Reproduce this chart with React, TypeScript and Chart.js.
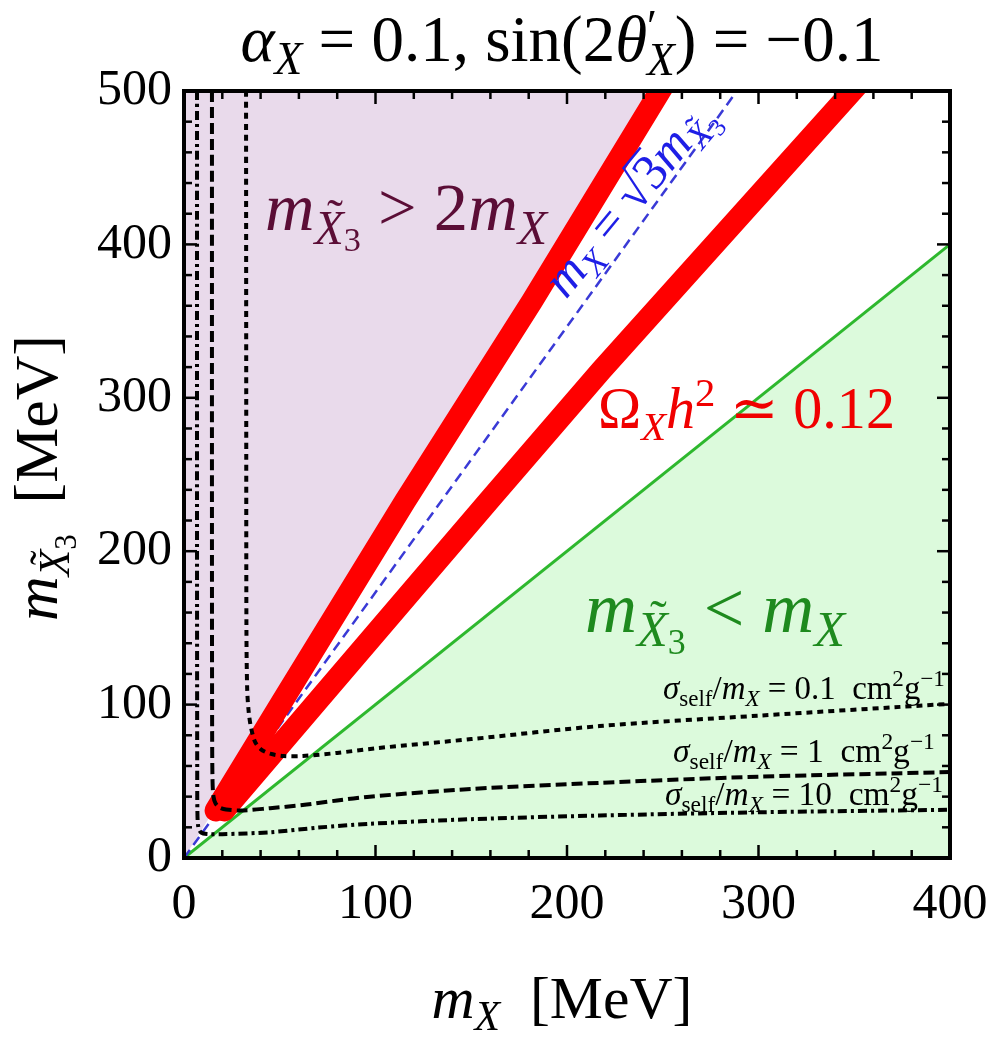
import React, { useEffect, useRef } from 'react';
import { Chart, registerables } from 'chart.js';

Chart.register(...registerables);

// ---------- axes ----------
const X_MIN = 0;
const X_MAX = 400;
const Y_MIN = 0;
const Y_MAX = 500;
const MINOR_STEP = 20;
const MAJOR_STEP = 100;

// ---------- kinematic boundaries ----------
const lowerBoundX = [0, 400]; // m_X3 = m_X
const lowerBoundY = [0, 400];
const upperBoundX = [0, 250]; // m_X3 = 2 m_X
const upperBoundY = [0, 500];
const sqrt3X = [0, 288.7]; // m_X = sqrt(3) m_X3 line
const sqrt3Y = [0, 500];

// ---------- relic density band (two branches) ----------
const relicAX = [16.5, 51.4, 115.4, 181.7, 248.6, 254];
const relicAY = [31, 102.3, 232.6, 362.9, 500, 511];
const relicBX = [21, 69.5, 159, 218, 349, 356];
const relicBY = [31, 102, 232.6, 318, 500, 510];

// ---------- self-interaction contours ----------
const sig01X = [32.4, 32.5, 32.6, 33.0, 33.8, 35.0, 37.0, 40.0, 45.0, 52.0, 62.0, 80.0, 100, 150, 217, 300, 400];
const sig01Y = [500, 300, 150, 110, 95, 85, 76, 71, 68, 66.5, 66.5, 68.5, 71.5, 77.5, 86, 92.8, 100.5];
const sig1X = [14.6, 14.6, 14.7, 14.9, 15.4, 16.5, 18.5, 22, 31, 45, 62, 80, 97, 150, 217, 300, 400];
const sig1Y = [500, 200, 80, 50, 40, 35.5, 33, 31.6, 31, 32.5, 34.5, 37.5, 40, 45, 49, 53, 56];
const sig10X = [6.8, 6.8, 6.9, 7.0, 7.5, 9.0, 12, 20, 45, 70, 97, 150, 217, 300, 400];
const sig10Y = [500, 200, 60, 30, 20, 16.5, 15.6, 15.5, 16.8, 19.8, 22.3, 25.3, 27.7, 29.8, 31.4];

const pts = (xs: number[], ys: number[]) => xs.map((x, i) => ({ x, y: ys[i] }));

const SERIF = '"Liberation Serif", "Times New Roman", "DejaVu Serif", serif';

type Seg = { t: string; it?: boolean; sc?: number; dy?: number; tilde?: boolean; noAdv?: boolean; over?: boolean };

const fontFor = (s: Seg, size: number) => `${s.it ? 'italic ' : ''}${size * (s.sc ?? 1)}px ${SERIF}`;

function measureSegs(ctx: CanvasRenderingContext2D, segs: Seg[], size: number) {
  let w = 0;
  for (const s of segs) {
    ctx.font = fontFor(s, size);
    if (!s.noAdv) w += ctx.measureText(s.t).width;
  }
  return w;
}

function drawRich(
  ctx: CanvasRenderingContext2D,
  segs: Seg[],
  x: number,
  y: number,
  width: number,
  align: 'left' | 'center' | 'right',
  color: string,
  rot = 0
) {
  const base = 40;
  const size = (base * width) / measureSegs(ctx, segs, base);
  ctx.save();
  ctx.translate(x, y);
  if (rot) ctx.rotate(rot);
  ctx.fillStyle = color;
  ctx.strokeStyle = color;
  ctx.textBaseline = 'alphabetic';
  ctx.textAlign = 'left';
  let cx = align === 'center' ? -width / 2 : align === 'right' ? -width : 0;
  for (const s of segs) {
    ctx.font = fontFor(s, size);
    const m = ctx.measureText(s.t).width;
    const yy = (s.dy ?? 0) * size;
    ctx.fillText(s.t, cx, yy);
    const ts = size * (s.sc ?? 1);
    if (s.tilde) {
      ctx.font = `${ts}px ${SERIF}`;
      const tw = ctx.measureText('\u02DC').width;
      ctx.fillText('\u02DC', cx + m / 2 - tw / 2 + ts * 0.12, yy - ts * 0.22);
    }
    if (s.over) {
      ctx.lineWidth = Math.max(1, ts * 0.05);
      ctx.beginPath();
      ctx.moveTo(cx - ts * 0.05, yy - ts * 0.78);
      ctx.lineTo(cx + m, yy - ts * 0.78);
      ctx.stroke();
    }
    if (!s.noAdv) cx += m;
  }
  ctx.restore();
}

const mX3: Seg[] = [
  { t: 'm', it: true },
  { t: 'X', it: true, sc: 0.7, dy: 0.2, tilde: true },
  { t: '3', sc: 0.5, dy: 0.3 },
];
const mX: Seg[] = [
  { t: 'm', it: true },
  { t: 'X', it: true, sc: 0.7, dy: 0.2 },
];
const sigmaLabel = (v: string): Seg[] => [
  { t: 'σ', it: true },
  { t: 'self', sc: 0.7, dy: 0.2 },
  { t: '/' },
  ...mX,
  { t: ` = ${v}  cm` },
  { t: '2', sc: 0.7, dy: -0.38 },
  { t: 'g' },
  { t: '−1', sc: 0.7, dy: -0.38 },
];

const framePlugin = {
  id: 'frame',
  beforeDraw(chart: any) {
    const ctx = chart.ctx;
    ctx.save();
    ctx.fillStyle = '#ffffff';
    ctx.fillRect(0, 0, chart.width, chart.height);
    ctx.restore();
  },
  afterDraw(chart: any) {
    const ctx: CanvasRenderingContext2D = chart.ctx;
    const a = chart.chartArea;
    const xs = chart.scales.x;
    const ys = chart.scales.y;
    ctx.save();
    ctx.strokeStyle = '#000';
    ctx.lineWidth = 2.5;
    const seg = (x1: number, y1: number, x2: number, y2: number) => {
      ctx.beginPath();
      ctx.moveTo(x1, y1);
      ctx.lineTo(x2, y2);
      ctx.stroke();
    };
    for (const t of xs.ticks) {
      const p = xs.getPixelForValue(t.value);
      const len = t.value % MAJOR_STEP === 0 ? 13 : 8;
      seg(p, a.bottom, p, a.bottom - len);
      seg(p, a.top, p, a.top + len);
    }
    for (const t of ys.ticks) {
      const p = ys.getPixelForValue(t.value);
      const len = t.value % MAJOR_STEP === 0 ? 13 : 8;
      seg(a.left, p, a.left + len, p);
      seg(a.right, p, a.right - len, p);
    }
    ctx.lineWidth = 4;
    ctx.strokeRect(a.left, a.top, a.right - a.left, a.bottom - a.top);

    // title
    drawRich(
      ctx,
      [
        { t: 'α', it: true },
        { t: 'X', it: true, sc: 0.7, dy: 0.2 },
        { t: ' = 0.1, sin(2' },
        { t: 'θ', it: true },
        { t: '′', sc: 0.7, dy: -0.3, noAdv: true },
        { t: 'X', it: true, sc: 0.7, dy: 0.22 },
        { t: ') = −0.1' },
      ],
      562,
      61,
      643,
      'center',
      '#000'
    );
    // axis titles
    drawRich(ctx, [...mX, { t: '  [MeV]' }], 562, 1018, 261, 'center', '#000');
    drawRich(ctx, [...mX3, { t: '  [MeV]' }], 57, 478, 286, 'center', '#000', -Math.PI / 2);

    // region labels
    drawRich(ctx, [...mX3, { t: ' > 2' }, ...mX], 265, 230, 282, 'left', '#5B0D36');
    drawRich(
      ctx,
      [{ t: 'Ω' }, { t: 'X', it: true, sc: 0.7, dy: 0.2 }, { t: 'h', it: true }, { t: '2', sc: 0.7, dy: -0.38 }, { t: ' ≃ 0.12' }],
      598,
      428,
      297,
      'left',
      '#F00000'
    );
    drawRich(ctx, [...mX3, { t: ' < ' }, ...mX], 585, 632, 260, 'left', '#1E8A1E');
    drawRich(
      ctx,
      [...mX, { t: ' = ' }, { t: '√' }, { t: '3', over: true }, ...mX3],
      566,
      300,
      236,
      'left',
      '#1E1EE6',
      (-50.5 * Math.PI) / 180
    );

    drawRich(ctx, sigmaLabel('0.1'), 945, 699, 282, 'right', '#000');
    drawRich(ctx, sigmaLabel('1'), 935, 762, 262, 'right', '#000');
    drawRich(ctx, sigmaLabel('10'), 943, 805, 278, 'right', '#000');
    ctx.restore();
  },
};

const zeroPad = (s: any) => {
  s.paddingLeft = 0;
  s.paddingRight = 0;
  s.paddingTop = 0;
  s.paddingBottom = 0;
};

export default function App() {
  const ref = useRef<HTMLCanvasElement>(null);
  useEffect(() => {
    const line = (data: any, extra: any) => ({
      data,
      showLine: true,
      pointRadius: 0,
      pointHoverRadius: 0,
      fill: false,
      clip: 0,
      ...extra,
    });
    const chart = new Chart(ref.current as HTMLCanvasElement, {
      type: 'scatter',
      data: {
        datasets: [
          line(pts(upperBoundX, upperBoundY), {
            label: 'mX3 > 2mX',
            fill: 'end',
            backgroundColor: '#E9DAEB',
            borderColor: 'transparent',
            borderWidth: 0,
            order: 10,
          }),
          line(pts(lowerBoundX, lowerBoundY), {
            label: 'mX3 < mX',
            fill: 'start',
            backgroundColor: '#DCFADC',
            borderColor: '#2EB82E',
            borderWidth: 3,
            order: 9,
          }),
          line(pts(sqrt3X, sqrt3Y), {
            label: 'sqrt3',
            borderColor: '#3A3AD6',
            borderWidth: 2.5,
            borderDash: [10, 6],
            order: 8,
          }),
          line(pts(relicAX, relicAY), {
            label: 'relic A',
            borderColor: '#FF0000',
            borderWidth: 22,
            borderCapStyle: 'round',
            borderJoinStyle: 'round',
            order: 7,
          }),
          line(pts(relicBX, relicBY), {
            label: 'relic B',
            borderColor: '#FF0000',
            borderWidth: 22,
            borderCapStyle: 'round',
            borderJoinStyle: 'round',
            order: 6,
          }),
          line(pts(sig01X, sig01Y), {
            label: '0.1',
            borderColor: '#000',
            borderWidth: 4,
            borderDash: [6, 5],
            tension: 0.3,
            order: 3,
          }),
          line(pts(sig1X, sig1Y), {
            label: '1',
            borderColor: '#000',
            borderWidth: 4,
            borderDash: [11, 5],
            tension: 0.3,
            order: 2,
          }),
          line(pts(sig10X, sig10Y), {
            label: '10',
            borderColor: '#000',
            borderWidth: 4,
            borderDash: [9, 4, 3, 4],
            tension: 0.3,
            order: 1,
          }),
        ],
      },
      options: {
        responsive: false,
        animation: false,
        events: [],
        layout: { padding: { left: 0, right: 42, top: 91, bottom: 0 } },
        plugins: { legend: { display: false }, tooltip: { enabled: false } },
        scales: {
          x: {
            type: 'linear',
            min: X_MIN,
            max: X_MAX,
            afterFit: (s: any) => {
              s.height = 184;
              zeroPad(s);
            },
            grid: { display: false, drawTicks: false },
            border: { display: false },
            ticks: {
              stepSize: MINOR_STEP,
              autoSkip: false,
              maxRotation: 0,
              padding: 17,
              color: '#000',
              font: { family: SERIF, size: 50 },
              callback: (v: any) => (Number(v) % MAJOR_STEP === 0 ? String(v) : ''),
            },
          },
          y: {
            type: 'linear',
            min: Y_MIN,
            max: Y_MAX,
            afterFit: (s: any) => {
              s.width = 184;
              zeroPad(s);
            },
            grid: { display: false, drawTicks: false },
            border: { display: false },
            ticks: {
              stepSize: MINOR_STEP,
              autoSkip: false,
              padding: 12,
              color: '#000',
              font: { family: SERIF, size: 50 },
              callback: (v: any) => (Number(v) % MAJOR_STEP === 0 ? String(v) : ''),
            },
          },
        },
      } as any,
      plugins: [framePlugin],
    });
    return () => chart.destroy();
  }, []);
  return (
    <div style={{ position: 'absolute', left: 0, top: 0, width: 992, height: 1042, background: '#fff' }}>
      <canvas ref={ref} width={992} height={1042} style={{ display: 'block', width: 992, height: 1042 }} />
    </div>
  );
}
